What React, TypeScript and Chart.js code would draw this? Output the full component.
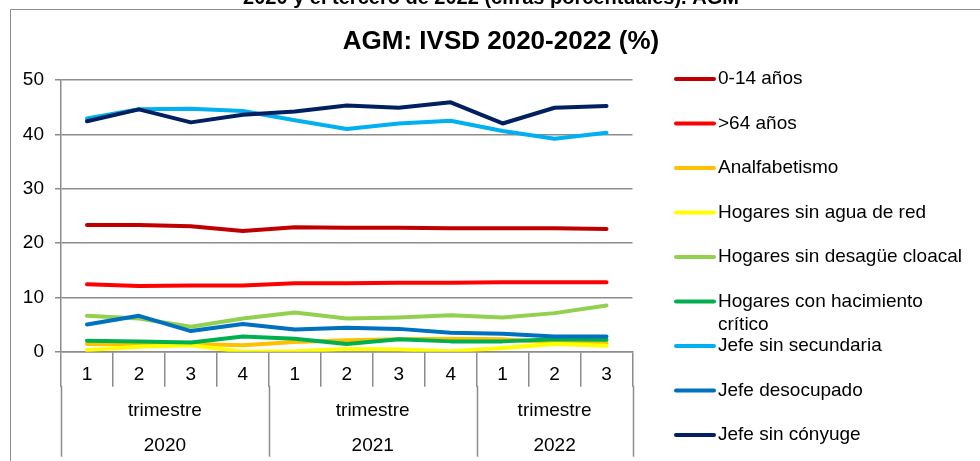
import React, { useEffect, useRef } from 'react';
import { Chart, registerables } from 'chart.js';

Chart.register(...registerables);

const documentCaption = '2020 y el tercero de 2022 (cifras porcentuales). AGM';
const chartTitle = 'AGM: IVSD 2020-2022 (%)';

const quarterLabels = ['1', '2', '3', '4', '1', '2', '3', '4', '1', '2', '3'];
const periodLabel = 'trimestre';
const yearLabels = ['2020', '2021', '2022'];
const quartersPerYear = [4, 4, 3];

const yMin = 0;
const yMax = 50;
const yStep = 10;

const seriesNames = [
  '0-14 años',
  '>64 años',
  'Analfabetismo',
  'Hogares sin agua de red',
  'Hogares sin desagüe cloacal',
  'Hogares con hacimiento crítico',
  'Jefe sin secundaria',
  'Jefe desocupado',
  'Jefe sin cónyuge',
];

const seriesColors = [
  '#C00000',
  '#FF0000',
  '#FFC000',
  '#FFFF00',
  '#92D050',
  '#00B050',
  '#00B0F0',
  '#0070C0',
  '#002060',
];

const edad0a14 = [23.3, 23.3, 23.1, 22.2, 22.9, 22.8, 22.8, 22.7, 22.7, 22.7, 22.6];
const mayores64 = [12.4, 12.1, 12.2, 12.2, 12.6, 12.6, 12.7, 12.7, 12.8, 12.8, 12.8];
const analfabetismo = [1.4, 1.4, 1.4, 1.2, 1.8, 2.1, 2.3, 2.4, 2.3, 1.7, 1.6];
const sinAguaRed = [0.3, 0.9, 1.2, 0.0, 0.1, 0.5, 0.4, 0.1, 0.7, 1.4, 1.1];
const sinDesague = [6.6, 6.1, 4.6, 6.1, 7.2, 6.1, 6.3, 6.7, 6.3, 7.1, 8.5];
const hacinamiento = [2.0, 1.9, 1.7, 2.8, 2.4, 1.4, 2.3, 1.9, 1.9, 2.3, 2.2];
const jefeSinSecundaria = [42.9, 44.6, 44.7, 44.3, 42.6, 41.0, 42.0, 42.5, 40.6, 39.2, 40.3];
const jefeDesocupado = [5.0, 6.6, 3.8, 5.1, 4.1, 4.4, 4.2, 3.5, 3.3, 2.8, 2.8];
const jefeSinConyuge = [42.4, 44.6, 42.2, 43.6, 44.2, 45.3, 44.9, 45.9, 42.0, 44.9, 45.2];

const seriesValues = [
  edad0a14,
  mayores64,
  analfabetismo,
  sinAguaRed,
  sinDesague,
  hacinamiento,
  jefeSinSecundaria,
  jefeDesocupado,
  jefeSinConyuge,
];

const FONT = '"Liberation Sans", Arial, sans-serif';
const GRID = '#8c8c8c';

const decorPlugin = {
  id: 'decor',
  beforeDraw(chart: any) {
    const ctx = chart.ctx as CanvasRenderingContext2D;
    ctx.save();
    ctx.fillStyle = '#ffffff';
    ctx.fillRect(0, 0, chart.width, chart.height);
    ctx.strokeStyle = GRID;
    ctx.lineWidth = 1;
    ctx.beginPath();
    ctx.moveTo(10.5, chart.height);
    ctx.lineTo(10.5, 9.5);
    ctx.lineTo(chart.width, 9.5);
    ctx.stroke();
    ctx.fillStyle = '#000000';
    ctx.textAlign = 'center';
    ctx.textBaseline = 'alphabetic';
    ctx.font = `bold 20px ${FONT}`;
    ctx.fillText(documentCaption, 491, 4);
    ctx.textBaseline = 'middle';
    ctx.font = `bold 26px ${FONT}`;
    ctx.fillText(chartTitle, 501, 42);
    ctx.restore();
  },
  afterDraw(chart: any) {
    const ctx = chart.ctx as CanvasRenderingContext2D;
    const xs = chart.scales.x;
    const bottom = chart.chartArea.bottom;
    const n = quarterLabels.length;
    ctx.save();
    const bounds: number[] = [xs.left];
    let idx = 0;
    quartersPerYear.forEach((c) => {
      idx += c;
      if (idx < n) {
        bounds.push((xs.getPixelForTick(idx - 1) + xs.getPixelForTick(idx)) / 2);
      } else {
        bounds.push(xs.right);
      }
    });
    ctx.strokeStyle = GRID;
    ctx.lineWidth = 1.5;
    bounds.forEach((b) => {
      const xx = Math.round(b) + 0.5;
      ctx.beginPath();
      ctx.moveTo(xx, bottom + 34);
      ctx.lineTo(xx, bottom + 105);
      ctx.stroke();
    });
    ctx.fillStyle = '#000000';
    ctx.textAlign = 'center';
    ctx.textBaseline = 'middle';
    ctx.font = `19px ${FONT}`;
    for (let g = 0; g < yearLabels.length; g++) {
      const cx = (bounds[g] + bounds[g + 1]) / 2;
      ctx.fillText(periodLabel, cx, bottom + 59);
      ctx.fillText(yearLabels[g], cx, bottom + 94);
    }
    ctx.font = `19px ${FONT}`;
    ctx.textAlign = 'left';
    const maxW = 256;
    chart.data.datasets.forEach((ds: any, i: number) => {
      const y = 79 + i * 44.5;
      ctx.strokeStyle = ds.borderColor;
      ctx.lineWidth = 4;
      ctx.lineCap = 'round';
      ctx.beginPath();
      ctx.moveTo(676, y);
      ctx.lineTo(714, y);
      ctx.stroke();
      const words = String(ds.label).split(' ');
      const lines: string[] = [];
      let cur = '';
      words.forEach((w) => {
        const test = cur ? cur + ' ' + w : w;
        if (ctx.measureText(test).width > maxW && cur) {
          lines.push(cur);
          cur = w;
        } else {
          cur = test;
        }
      });
      if (cur) lines.push(cur);
      lines.forEach((ln, k) => {
        ctx.fillText(ln, 718, y + k * 23);
      });
    });
    ctx.restore();
  },
};

export default function App() {
  const ref = useRef<HTMLCanvasElement | null>(null);
  useEffect(() => {
    if (!ref.current) return;
    const datasets = seriesNames.map((name, i) => ({
      label: name,
      data: seriesValues[i],
      borderColor: seriesColors[i],
      backgroundColor: seriesColors[i],
      borderWidth: 4,
      tension: 0,
      pointRadius: 0,
      pointHoverRadius: 0,
      borderCapStyle: 'round' as const,
      borderJoinStyle: 'round' as const,
      fill: false,
      order: seriesNames.length - i,
    }));
    const chart = new Chart(ref.current, {
      type: 'line',
      data: { labels: quarterLabels, datasets },
      plugins: [decorPlugin],
      options: {
        animation: false,
        responsive: false,
        devicePixelRatio: 1,
        layout: { padding: { top: 80, right: 347.5, bottom: 0, left: 0 } },
        plugins: {
          legend: { display: false },
          title: { display: false },
          tooltip: { enabled: false },
        },
        scales: {
          x: {
            type: 'category',
            offset: true,
            grid: {
              display: true,
              offset: true,
              drawOnChartArea: false,
              drawTicks: true,
              tickLength: 35,
              color: GRID,
              lineWidth: 1.5,
            },
            border: { display: true, color: GRID, width: 1.5 },
            ticks: {
              color: '#000000',
              font: { family: FONT, size: 19 },
              padding: -23,
              maxRotation: 0,
              autoSkip: false,
            },
            afterFit: (scale: any) => {
              scale.height = 109.3;
            },
          },
          y: {
            min: yMin,
            max: yMax,
            ticks: {
              stepSize: yStep,
              color: '#000000',
              font: { family: FONT, size: 19 },
              padding: 11,
            },
            grid: {
              color: GRID,
              lineWidth: 1.5,
              tickLength: 6,
              drawTicks: true,
            },
            border: { display: true, color: GRID, width: 1.5 },
            afterFit: (scale: any) => {
              scale.width = 61;
            },
          },
        },
      },
    });
    return () => chart.destroy();
  }, []);
  return (
    <div style={{ position: 'absolute', left: 0, top: 0, width: 980, height: 461, overflow: 'hidden', background: '#fff' }}>
      <canvas ref={ref} width={980} height={461} style={{ display: 'block', width: 980, height: 461 }} />
    </div>
  );
}
